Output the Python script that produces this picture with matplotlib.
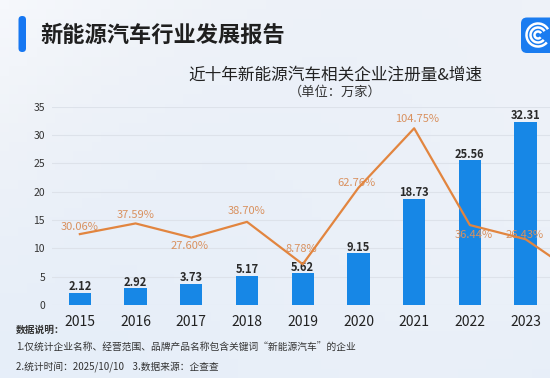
import numpy as np
import matplotlib
matplotlib.use('Agg')
import matplotlib.pyplot as plt
from matplotlib.patches import FancyBboxPatch, Arc
from matplotlib.colors import LinearSegmentedColormap

plt.rcParams['font.family'] = ['Noto Sans CJK SC', 'DejaVu Sans']

# data
years = ['2015', '2016', '2017', '2018', '2019', '2020', '2021', '2022', '2023']
counts = [2.12, 2.92, 3.73, 5.17, 5.62, 9.15, 18.73, 25.56, 32.31]
# growth (%), last point runs off the right edge of the picture
growth = [30.06, 37.59, 27.60, 38.70, 8.78, 62.76, 104.75, 36.44, 26.43, -0.6]
growth_labels = ['30.06%', '37.59%', '27.60%', '38.70%', '8.78%', '62.76%',
                 '104.75%', '36.44%', '26.43%']

BLUE = '#1787e6'
ORANGE = '#e2853f'
ORANGE_TXT = '#d9915f'

W, H = 550, 378
fig = plt.figure(figsize=(W / 100, H / 100), dpi=100)

# background + header, pixel coords
bg = fig.add_axes([0, 0, 1, 1], zorder=-1)
bg.set_xlim(0, W)
bg.set_ylim(H, 0)
bg.axis('off')
gx, gy = np.meshgrid(np.linspace(0, 1, 60), np.linspace(0, 1, 40))
grad = 0.5 * gy + 0.3 * gx + 0.2 * np.sin(gx * 3 + gy * 2)
cmap = LinearSegmentedColormap.from_list('bgc', ['#f6f8fc', '#eef2f8', '#e6eef9'])
bg.imshow(grad, extent=(0, W, H, 0), cmap=cmap, aspect='auto', zorder=0)

bg.add_patch(FancyBboxPatch((18.5, 16), 7.5, 36, boxstyle='round,pad=0,rounding_size=3.7',
                            fc='#1677f2', ec='none', zorder=2))
bg.text(40, 35, '新能源汽车行业发展报告', fontsize=16, fontweight='bold',
        color='#1f1f1f', va='center', ha='left', zorder=3)

# logo
bg.add_patch(FancyBboxPatch((521, 17.5), 40, 35.5, boxstyle='round,pad=0,rounding_size=6',
                            fc='#1a7cf0', ec='none', zorder=2))
for r in [3.5, 7.5, 11.5]:
    bg.add_patch(Arc((538, 35), 2 * r, 2 * r, theta1=40, theta2=330,
                     color='white', lw=1.8, zorder=3))

bg.text(335, 75, '近十年新能源汽车相关企业注册量&增速', fontsize=12,
        color='#222222', ha='center', va='center', zorder=3)
bg.text(335, 92, '（单位：万家）', fontsize=9.5, color='#333333',
        ha='center', va='center', zorder=3)

bg.text(16, 330, '数据说明：', fontsize=7, color='#333333', fontweight='bold',
        ha='left', va='center', zorder=3)
bg.text(16, 348, '1.仅统计企业名称、经营范围、品牌产品名称包含关键词“新能源汽车”的企业',
        fontsize=7, color='#333333', ha='left', va='center', zorder=3)
bg.text(16, 367, '2.统计时间：2025/10/10    3.数据来源：企查查', fontsize=7,
        color='#333333', ha='left', va='center', zorder=3)

# chart
ax = fig.add_axes([52 / W, 73 / H, (W - 52) / W, (305 - 106.7) / H])
ax.set_facecolor('none')
x = np.arange(len(years))
bars = ax.bar(x, counts, width=0.4, color=BLUE, zorder=3)
for xi, v in zip(x, counts):
    ax.annotate(f'{v:.2f}', (xi, v), xytext=(0, 6), textcoords='offset pixels',
                ha='center', va='center', fontsize=8, fontweight='bold', color='#2a2a2a')

ax.set_xlim(-0.5, (W - 80) / 55.7)
ax.set_ylim(0, 35)
ax.set_yticks(range(0, 36, 5))
ax.set_xticks(x)
ax.set_xticklabels(years, fontsize=10, color='#222222')
ax.tick_params(axis='y', labelsize=7.5, colors='#333333', length=0, pad=5)
ax.tick_params(axis='x', length=0, pad=7)
ax.grid(axis='y', color='#dde2ea', lw=0.8, zorder=0)
for s in ax.spines.values():
    s.set_visible(False)

ax2 = ax.twinx()
ax2.set_ylim(-20, 120)
ax2.axis('off')
gx_line = np.arange(len(growth))
ax2.plot(gx_line, growth, color=ORANGE, lw=1.6, zorder=4)
offs = [(0, 7), (0, 8), (-2, -8), (0, 11), (-1, 15), (-2, 5), (3, 9), (4, -10), (-1, 4)]
for xi, v, lab, (dx, dy) in zip(gx_line, growth, growth_labels, offs):
    ax2.annotate(lab, (xi, v), xytext=(dx, dy), textcoords='offset pixels',
                 ha='center', va='center', fontsize=8, color=ORANGE_TXT)

fig.savefig('out.png', dpi=100)
